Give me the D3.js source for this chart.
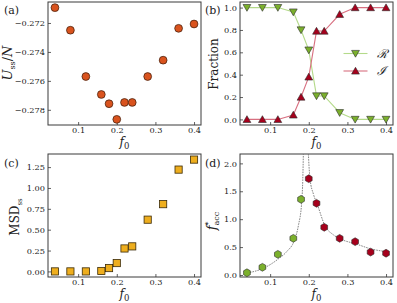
<!DOCTYPE html>
<html><head><meta charset="utf-8">
<script src="https://cdn.jsdelivr.net/npm/d3@7"></script>
<style>
html,body{margin:0;padding:0;background:#fff;}
svg{display:block;font-family:"DejaVu Serif","Liberation Serif",serif;}
</style></head>
<body><svg id="c" width="397" height="303"></svg>
<script>
// ---- data ----
const f0 = [0.04,0.08,0.12,0.16,0.18,0.20,0.22,0.24,0.28,0.32,0.36,0.40];
const Uss = [-0.27094,-0.2725,-0.2757,-0.27694,-0.27758,-0.27866,-0.27749,-0.27749,-0.2757,-0.27457,-0.27237,-0.27207];
const fracR = [1,1,1,0.96,0.80,0.62,0.21,0.21,0.06,0,0,0];
const fracI = [0,0,0,0.04,0.20,0.38,0.79,0.79,0.94,1,1,1];
const msd = [0,0,0,0.005,0.04,0.10,0.275,0.30,0.62,0.806,1.22,1.34];
const facc = [0.04,0.138,0.37,0.657,1.356,1.725,1.285,0.855,0.657,0.597,0.41,0.39];
const faccPhase = ["R","R","R","R","R","I","I","I","I","I","I","I"];
const fitLeftF = [0.041,0.0824,0.121,0.143,0.163,0.173,0.182,0.1844,0.186];
const fitLeftY = [0.036,0.12,0.287,0.42,0.627,0.88,1.33,1.69,2.17];
const fitRightF = [0.199,0.2008,0.2033,0.212,0.2223,0.242,0.2637,0.282,0.3225,0.362,0.402];
const fitRightY = [2.17,1.93,1.72,1.45,1.26,0.88,0.72,0.645,0.556,0.466,0.418];
const xTicks = [0.1,0.2,0.3,0.4];
const yTicksA = [-0.272,-0.274,-0.276,-0.278];
const yTicksB = [0.0,0.2,0.4,0.6,0.8,1.0];
const yTicksC = [0.00,0.25,0.50,0.75,1.00,1.25];
const yTicksD = [0.0,0.5,1.0,1.5,2.0];

const svg = d3.select("#c");
const col = [[48,201],[240,393]];
const row = [[2,125],[154,277]];
const xDom = [0.022,0.418];
const frameColor = "#3a3a3a";
const tickFont = 8.2;

function panel(ci, ri, yDom, yTicks, yFmt, clipId){
  const [x0,x1] = col[ci], [y0,y1] = row[ri];
  const x = d3.scaleLinear().domain(xDom).range([x0,x1]);
  const y = d3.scaleLinear().domain(yDom).range([y1,y0]);
  const g = svg.append("g");
  svg.append("clipPath").attr("id",clipId).append("rect")
    .attr("x",x0).attr("y",y0).attr("width",x1-x0).attr("height",y1-y0);
  const ax = g.append("g").attr("transform",`translate(0,${y1})`)
    .call(d3.axisBottom(x).tickValues(xTicks).tickSize(-3).tickPadding(2).tickFormat(d3.format(".1f")));
  const ay = g.append("g").attr("transform",`translate(${x0},0)`)
    .call(d3.axisLeft(y).tickValues(yTicks).tickSize(-3).tickPadding(3).tickFormat(yFmt));
  [ax,ay].forEach(a=>{
    a.select(".domain").remove();
    a.selectAll("line").attr("stroke",frameColor).attr("stroke-width",0.8);
    a.selectAll("text").attr("font-size",tickFont).attr("fill","#222")
      .attr("font-family","DejaVu Serif, serif");
  });
  g.append("rect").attr("x",x0).attr("y",y0).attr("width",x1-x0).attr("height",y1-y0)
    .attr("fill","none").attr("stroke",frameColor).attr("stroke-width",1);
  const xl = g.append("text").attr("x",(x0+x1)/2).attr("y",y1+21).attr("text-anchor","middle")
    .attr("font-size",12).attr("fill","#222");
  xl.append("tspan").attr("font-style","italic").text("f");
  xl.append("tspan").attr("font-size",8.5).attr("dy",2.5).text("0");
  return {x,y,g};
}

const fmtMinus = d => d3.format(".3f")(d).replace("-","\u2212");

// (a)
{
  const {x,y,g} = panel(0,0,[-0.27905,-0.27055],yTicksA,fmtMinus,"ca");
  g.selectAll("circle.m").data(f0).join("circle")
    .attr("cx",d=>x(d)).attr("cy",(d,i)=>y(Uss[i])).attr("r",3.9)
    .attr("fill","#d9531e").attr("stroke","#3a1a08").attr("stroke-width",0.7);
  const yl = g.append("text").attr("transform","translate(12,63) rotate(-90)")
    .attr("text-anchor","middle").attr("font-size",13).attr("fill","#222");
  yl.append("tspan").attr("font-style","italic").text("U");
  yl.append("tspan").attr("font-size",8).attr("dy",3).text("ss");
  yl.append("tspan").attr("dy",-3).text("/");
  yl.append("tspan").attr("font-style","italic").text("N");
  svg.append("text").attr("x",4).attr("y",14).attr("font-size",11).attr("fill","#222").text("(a)");
}
// (b)
{
  const {x,y,g} = panel(1,0,[-0.05,1.05],yTicksB,d3.format(".1f"),"cb");
  const line = d3.line().x(d=>x(d[0])).y(d=>y(d[1]));
  const tri = (up)=> up ? "M0,-3.7L3.9,3.1L-3.9,3.1Z" : "M0,3.7L3.9,-3.1L-3.9,-3.1Z";
  const sets = [
    {v:fracR, lc:"#b4da8a", fc:"#7bb02c", up:false},
    {v:fracI, lc:"#d86f80", fc:"#a6001c", up:true}
  ];
  sets.forEach(s=>{
    g.append("path").datum(f0.map((d,i)=>[d,s.v[i]])).attr("d",line)
      .attr("fill","none").attr("stroke",s.lc).attr("stroke-width",1.1);
  });
  sets.forEach(s=>{
    g.selectAll(null).data(f0).join("path")
      .attr("transform",(d,i)=>`translate(${x(d)},${y(s.v[i])})`)
      .attr("d",tri(s.up)).attr("fill",s.fc).attr("stroke","#2a2a2a").attr("stroke-width",0.6);
  });
  const leg = [{t:"\u211B",s:sets[0],yy:53.5},{t:"\u2110",s:sets[1],yy:71}];
  leg.forEach(l=>{
    g.append("line").attr("x1",343.5).attr("x2",367.5).attr("y1",l.yy).attr("y2",l.yy)
      .attr("stroke",l.s.lc).attr("stroke-width",1.1);
    g.append("path").attr("transform",`translate(355.5,${l.yy})`).attr("d",tri(l.s.up))
      .attr("fill",l.s.fc).attr("stroke","#2a2a2a").attr("stroke-width",0.6);
    g.append("text").attr("x",377).attr("y",l.yy+4).attr("font-size",12).attr("font-style","italic")
      .attr("fill","#222").text(l.t);
  });
  g.append("text").attr("transform","translate(218,64) rotate(-90)")
    .attr("text-anchor","middle").attr("font-size",12).attr("fill","#222").text("Fraction");
  svg.append("text").attr("x",205).attr("y",14).attr("font-size",11).attr("fill","#222").text("(b)");
}
// (c)
{
  const {x,y,g} = panel(0,1,[-0.067,1.407],yTicksC,d3.format(".2f"),"cc");
  g.selectAll("rect.m").data(f0).join("rect")
    .attr("x",d=>x(d)-3.6).attr("y",(d,i)=>y(msd[i])-3.6).attr("width",7.2).attr("height",7.2)
    .attr("fill","#eeae1e").attr("stroke","#3a2a08").attr("stroke-width",0.8);
  const yl = g.append("text").attr("transform","translate(19,217) rotate(-90)")
    .attr("text-anchor","middle").attr("font-size",12).attr("fill","#222");
  yl.append("tspan").text("MSD");
  yl.append("tspan").attr("font-size",7).attr("dy",3).text("ss");
  svg.append("text").attr("x",4).attr("y",167).attr("font-size",11).attr("fill","#222").text("(c)");
}
// (d)
{
  const {x,y,g} = panel(1,1,[-0.036,2.168],yTicksD,d3.format(".1f"),"cd");
  const line = d3.line().x(d=>x(d[0])).y(d=>y(d[1])).curve(d3.curveMonotoneX);
  [[fitLeftF,fitLeftY],[fitRightF,fitRightY]].forEach(([fx,fy])=>{
    g.append("path").datum(fx.map((d,i)=>[d,fy[i]])).attr("d",line)
      .attr("clip-path","url(#cd)").attr("fill","none").attr("stroke","#777")
      .attr("stroke-width",0.9).attr("stroke-dasharray","1.6,1");
  });
  const hex = d3.range(6).map(k=>{const a=Math.PI/3*k - Math.PI/2; return [3.9*Math.cos(a),3.9*Math.sin(a)];});
  const hexPath = "M"+hex.map(p=>p.join(",")).join("L")+"Z";
  g.selectAll(null).data(f0).join("path")
    .attr("transform",(d,i)=>`translate(${x(d)},${y(facc[i])})`).attr("d",hexPath)
    .attr("fill",(d,i)=>faccPhase[i]==="R"?"#7bb02c":"#a6001c")
    .attr("stroke","#2a2a2a").attr("stroke-width",0.6);
  const yl = g.append("text").attr("transform","translate(216,221) rotate(-90)")
    .attr("text-anchor","middle").attr("font-size",13).attr("fill","#222");
  yl.append("tspan").attr("font-style","italic").text("f");
  yl.append("tspan").attr("font-size",8).attr("dy",-5).text("*");
  yl.append("tspan").attr("font-size",8).attr("dx",-4).attr("dy",8).text("acc");
  svg.append("text").attr("x",205).attr("y",167).attr("font-size",11).attr("fill","#222").text("(d)");
}
</script></body></html>
